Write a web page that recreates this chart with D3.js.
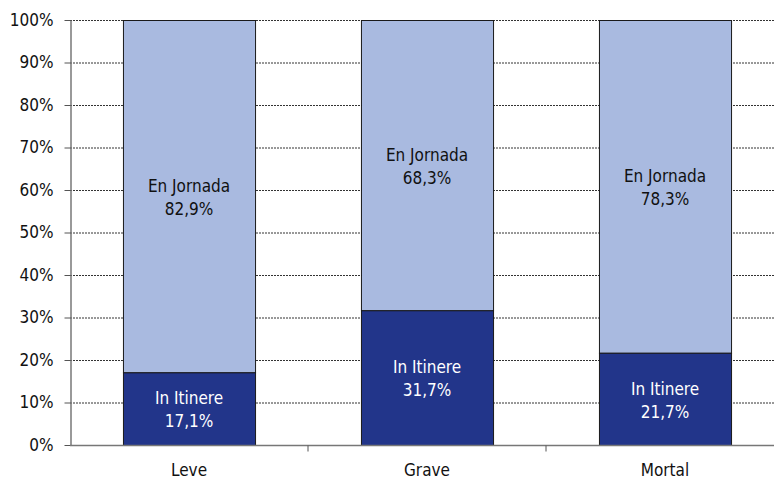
<!DOCTYPE html>
<html>
<head>
<meta charset="utf-8">
<script src="https://cdn.jsdelivr.net/npm/d3@7"></script>
<style>
  body { margin: 0; background: #fff; }
  svg text { font-family: "Liberation Sans Narrow", "Arial Narrow", "DejaVu Sans Condensed", sans-serif; font-stretch: condensed; }
</style>
</head>
<body>
<div id="chart"></div>
<script>
// data
var categories = ["Leve", "Grave", "Mortal"];
var inItinere = [17.1, 31.7, 21.7];
var enJornada = [82.9, 68.3, 78.3];
var yTicks = [0, 10, 20, 30, 40, 50, 60, 70, 80, 90, 100];

var W = 774, H = 479;
var mLeft = 70, mTop = 20, mBottom = 445;

var svg = d3.select("#chart").append("svg")
  .attr("width", W)
  .attr("height", H);

var x = d3.scaleBand()
  .domain(categories)
  .range([mLeft, 784])
  .paddingInner(0.445)
  .paddingOuter(0.2225);

var y = d3.scaleLinear()
  .domain([0, 100])
  .range([mBottom, mTop]);

// gridlines
svg.append("g")
  .selectAll("line")
  .data(yTicks.filter(function(d) { return d > 0; }))
  .enter().append("line")
    .attr("x1", mLeft).attr("x2", W)
    .attr("y1", function(d) { return y(d) + 0.5; })
    .attr("y2", function(d) { return y(d) + 0.5; })
    .style("stroke", "#333")
    .style("stroke-width", 1)
    .style("stroke-dasharray", "2,1");

// y axis
var yAxis = svg.append("g")
  .attr("transform", "translate(" + (mLeft + 0.5) + ",0)")
  .call(d3.axisLeft(y).tickValues(yTicks).tickSize(6).tickSizeOuter(0)
    .tickFormat(function(d) { return d + "%"; }));
yAxis.select(".domain").style("stroke", "#777").style("stroke-width", 1.5);
yAxis.selectAll(".tick line").style("stroke", "#555");
yAxis.selectAll(".tick text")
  .attr("x", -17)
  .style("font-size", "17px")
  .style("fill", "#111");

// stacked bars
var rows = categories.map(function(c, i) {
  return { cat: c, itin: inItinere[i], jorn: enJornada[i] };
});

var bars = svg.append("g");
bars.selectAll("rect.jorn")
  .data(rows).enter().append("rect")
    .attr("class", "jorn")
    .attr("x", function(d) { return x(d.cat) + 0.5; })
    .attr("y", function(d) { return y(d.itin + d.jorn) + 0.5; })
    .attr("width", x.bandwidth())
    .attr("height", function(d) { return y(d.itin) - y(d.itin + d.jorn); })
    .style("fill", "#a9bae0")
    .style("stroke", "#1a1a1a")
    .style("stroke-width", 1);

bars.selectAll("rect.itin")
  .data(rows).enter().append("rect")
    .attr("class", "itin")
    .attr("x", function(d) { return x(d.cat) + 0.5; })
    .attr("y", function(d) { return y(d.itin) + 0.5; })
    .attr("width", x.bandwidth())
    .attr("height", function(d) { return y(0) - y(d.itin); })
    .style("fill", "#22358a")
    .style("stroke", "#1a1a1a")
    .style("stroke-width", 1);

// x axis
var xAxis = svg.append("g")
  .attr("transform", "translate(0," + (mBottom + 0.5) + ")")
  .call(d3.axisBottom(x).tickSize(0).tickSizeOuter(0));
xAxis.select(".domain").remove();
xAxis.append("line")
  .attr("x1", mLeft).attr("x2", W)
  .style("stroke", "#777").style("stroke-width", 1.5);
xAxis.selectAll(".tick text")
  .attr("dy", 0).attr("y", 30)
  .style("font-size", "17px")
  .style("fill", "#111");
// ticks between categories
xAxis.selectAll("line.sep")
  .data(categories.slice(1)).enter().append("line")
    .attr("class", "sep")
    .attr("x1", function(d) { return x(d) - x.step() * x.paddingInner() / 2; })
    .attr("x2", function(d) { return x(d) - x.step() * x.paddingInner() / 2; })
    .attr("y1", 0).attr("y2", 6)
    .style("stroke", "#555");

// labels
function addLabels(cls, name, getMid, getVal, color) {
  var g = svg.append("g").selectAll("text." + cls)
    .data(rows).enter().append("text")
      .attr("class", cls)
      .attr("x", function(d) { return x(d.cat) + x.bandwidth() / 2; })
      .attr("y", function(d) { return y(getMid(d)); })
      .attr("text-anchor", "middle")
      .style("font-size", "17px")
      .style("fill", color);
  g.append("tspan").attr("x", function(d) { return x(d.cat) + x.bandwidth() / 2; })
    .attr("dy", "-0.25em").text(name);
  g.append("tspan").attr("x", function(d) { return x(d.cat) + x.bandwidth() / 2; })
    .attr("dy", "1.35em")
    .text(function(d) { return getVal(d).toFixed(1).replace(".", ",") + "%"; });
}
addLabels("jl", "En Jornada", function(d) { return d.itin + d.jorn / 2; },
  function(d) { return d.jorn; }, "#111");
addLabels("il", "In Itinere", function(d) { return d.itin / 2; },
  function(d) { return d.itin; }, "#fff");
</script>
</body>
</html>
